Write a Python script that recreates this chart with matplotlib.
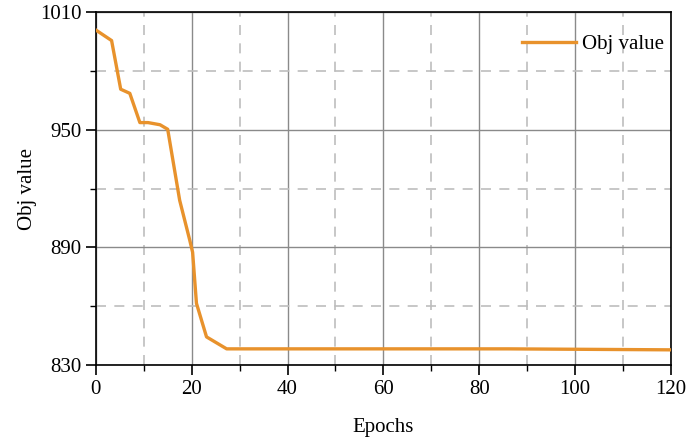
import matplotlib
matplotlib.use("Agg")
import matplotlib.pyplot as plt
from matplotlib.ticker import MultipleLocator, FixedLocator

# vertices
epochs = [0, 3.3, 5.2, 7.1, 9.2, 10.9, 13.4, 15.0, 17.5, 19.6, 20.2, 21.0, 23.1, 27.3, 60, 86, 120]
obj_value = [1000.8, 995.4, 970.6, 968.5, 953.6, 953.6, 952.5, 950.2, 914.0, 893.7, 887.5, 861.5, 844.4, 838.3, 838.3, 838.3, 837.8]

y_major = [830, 890, 950, 1010]
y_minor = [860, 920, 980]

plt.rcParams["font.family"] = ["Liberation Serif", "DejaVu Serif"]
plt.rcParams["font.size"] = 15

fig, ax = plt.subplots(figsize=(6.89, 4.41), dpi=100)
fig.subplots_adjust(left=0.139, right=0.974, top=0.973, bottom=0.172)

ax.plot(epochs, obj_value, color="#E8922C", lw=2.4, label="Obj value", zorder=3)

ax.set_xlim(0, 120)
ax.set_ylim(830, 1010)
ax.xaxis.set_major_locator(MultipleLocator(20))
ax.xaxis.set_minor_locator(MultipleLocator(10))
ax.yaxis.set_major_locator(FixedLocator(y_major))
ax.yaxis.set_minor_locator(FixedLocator(y_minor))

ax.grid(which="major", color="#8a8a8a", lw=1.0, ls="-")
ax.grid(which="minor", color="#bdbdbd", lw=1.2, ls=(0, (6, 5)))

ax.tick_params(which="major", direction="out", length=7, width=1.2)
ax.tick_params(which="minor", direction="out", length=4, width=1.0)
for s in ax.spines.values():
    s.set_linewidth(1.2)

ax.set_xlabel("Epochs", labelpad=14)
ax.set_ylabel("Obj value", labelpad=2)

ax.legend(loc="upper right", bbox_to_anchor=(1.017, 0.983), frameon=False,
          handlelength=2.6, handletextpad=0.3, borderaxespad=0.4, fontsize=15)

fig.savefig("out.png", dpi=100)
